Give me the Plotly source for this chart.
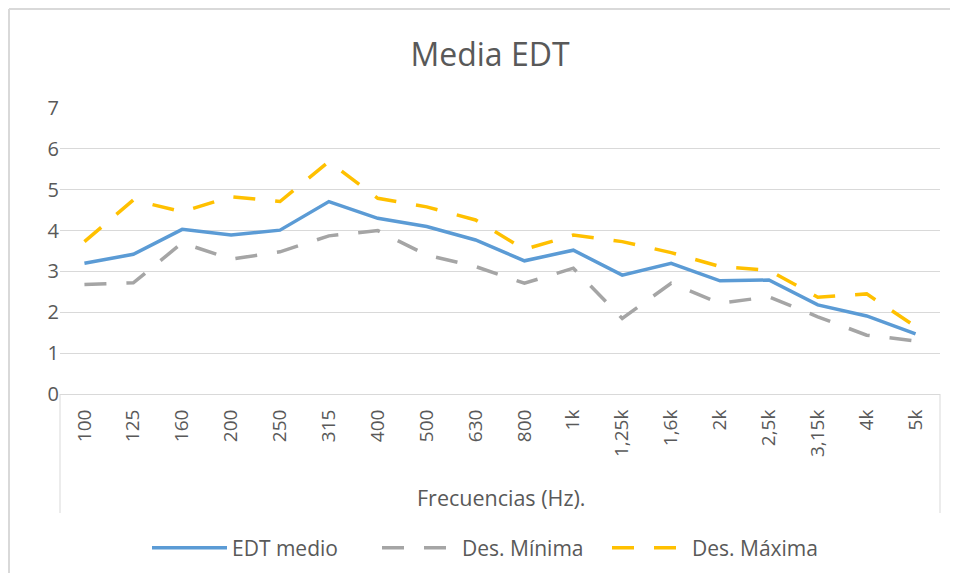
import plotly.graph_objects as go

categories = ["100", "125", "160", "200", "250", "315", "400", "500", "630", "800",
              "1k", "1,25k", "1,6k", "2k", "2,5k", "3,15k", "4k", "5k"]
edt_medio = [3.20, 3.42, 4.03, 3.89, 4.01, 4.71, 4.30, 4.10, 3.77, 3.26,
             3.52, 2.91, 3.20, 2.77, 2.79, 2.18, 1.91, 1.47]
des_minima = [2.68, 2.72, 3.70, 3.30, 3.48, 3.87, 4.00, 3.40, 3.12, 2.71,
              3.08, 1.85, 2.71, 2.22, 2.38, 1.89, 1.44, 1.30]
des_maxima = [3.73, 4.75, 4.46, 4.83, 4.71, 5.69, 4.79, 4.58, 4.26, 3.54,
              3.89, 3.73, 3.46, 3.12, 3.03, 2.37, 2.45, 1.65]

FONT = "'Open Sans', sans-serif"
TXT = "#595959"
GRID = "#d9d9d9"

fig = go.Figure()
fig.add_trace(go.Scatter(x=categories, y=edt_medio, name="EDT medio", mode="lines",
                         line=dict(color="#5B9BD5", width=3.5)))
fig.add_trace(go.Scatter(x=categories, y=des_minima, name="Des. Mínima", mode="lines",
                         line=dict(color="#A5A5A5", width=3.5, dash="22px,20px")))
fig.add_trace(go.Scatter(x=categories, y=des_maxima, name="Des. Máxima", mode="lines",
                         line=dict(color="#FFC000", width=3.5, dash="22px,20px")))

# page offset of the figure (browser body margin) is 8px
OFF = 8
W, HGT = 942, 565
H = 286.0  # plot height in px (page y 108 .. 394)
PW = 880.0  # plot width in px (page x 60 .. 940)

def py(pix):
    return (394 - pix) / H

def px(pix):
    return (pix - 60) / PW

fig.update_layout(
    width=W, height=HGT,
    margin=dict(l=60 - OFF, r=W - (940 - OFF), t=108 - OFF, b=HGT - (394 - OFF),
                autoexpand=False),
    paper_bgcolor="white", plot_bgcolor="white",
    font=dict(family=FONT, color=TXT, size=20),
    title=dict(text="Media EDT", x=(490 - OFF) / W, xanchor="center",
               y=1 - (55 - OFF) / HGT, yanchor="middle",
               font=dict(family=FONT, size=32, color=TXT)),
    showlegend=True,
    legend=dict(orientation="h", x=px(492), xanchor="center", y=py(548), yanchor="middle",
                font=dict(family=FONT, size=21, color=TXT), itemwidth=75,
                entrywidth=140, entrywidthmode="pixels",
                bgcolor="rgba(0,0,0,0)"),
    xaxis=dict(type="category", tickangle=-90, showgrid=False, showline=True,
               linecolor=GRID, linewidth=1, ticks="", tickfont=dict(size=19, color=TXT),
               ticklabelstandoff=7,
               range=[-0.5, len(categories) - 0.5], fixedrange=True, automargin=False),
    yaxis=dict(range=[0, 7], dtick=1, showgrid=True, gridcolor=GRID, gridwidth=1,
               zeroline=False, showline=False, ticks="", tickfont=dict(size=20, color=TXT),
               fixedrange=True, automargin=False),
    annotations=[dict(text="Frecuencias (Hz).", xref="paper", yref="paper", x=px(501), y=py(497),
                      xanchor="center", yanchor="middle", showarrow=False,
                      font=dict(family=FONT, size=21.5, color=TXT))],
    shapes=[
        dict(type="line", xref="paper", yref="paper", x0=0, x1=0, y0=0, y1=py(513),
             line=dict(color=GRID, width=1)),
        dict(type="line", xref="paper", yref="paper", x0=1, x1=1, y0=0, y1=py(513),
             line=dict(color=GRID, width=1)),
        dict(type="line", xref="paper", yref="paper", x0=px(9), x1=px(9),
             y0=py(9), y1=py(600), line=dict(color=GRID, width=2)),
        dict(type="line", xref="paper", yref="paper", x0=px(9), x1=px(960),
             y0=py(9), y1=py(9), line=dict(color=GRID, width=2)),
    ],
)

fig.write_html("out.html")
